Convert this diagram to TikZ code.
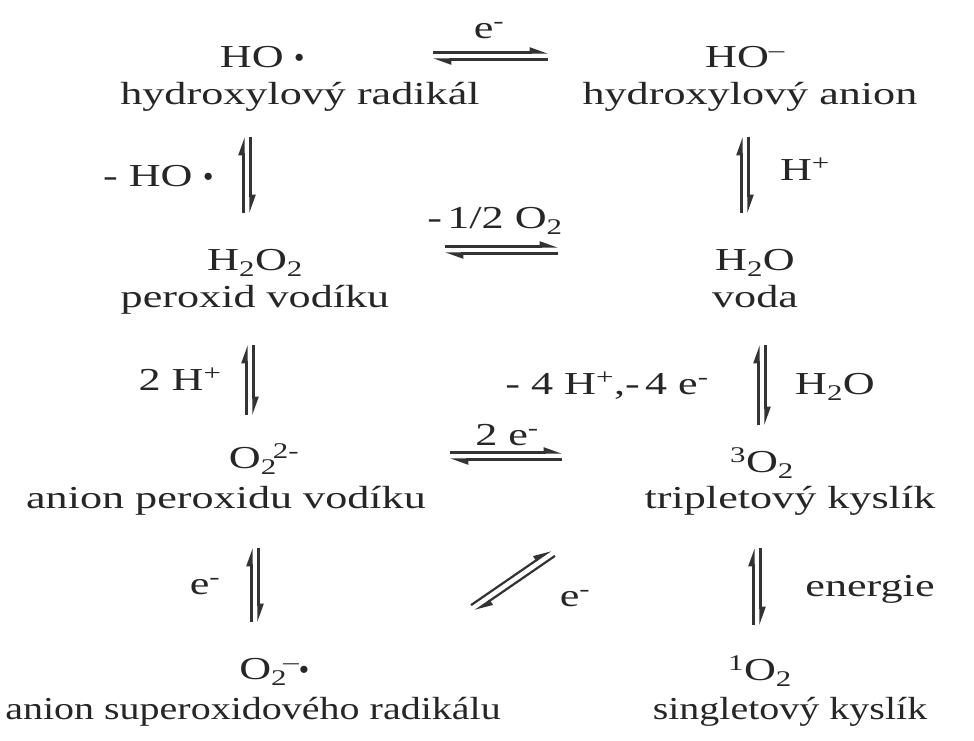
\documentclass[tikz,border=0pt]{standalone}
\usepackage{fontspec}
\setmainfont{Liberation Serif}[FakeStretch=1.38]
\usetikzlibrary{arrows.meta, calc}

\newcommand{\rad}{\raisebox{0.3ex}{\scalebox{0.75}{$\bullet$}}}
\newcommand{\ion}[3]{#1\textsubscript{#2}\kern-0.12em\textsuperscript{#3}}
% pair of harpoons between two named coordinates
\newcommand{\eqarrows}[2]{%
  \draw[harpoon] ($(#1)!3.5pt!90:(#2)$) -- ($(#2)!3.5pt!-90:(#1)$);
  \draw[harpoon] ($(#2)!3.5pt!90:(#1)$) -- ($(#1)!3.5pt!-90:(#2)$);}

\begin{document}
\begin{tikzpicture}[
    x=1pt, y=-1pt,
    font=\fontsize{32}{38}\selectfont,
    species/.style={anchor=base, inner sep=0pt, text=black!85},
    narrow/.style={species, font=\fontsize{32}{38}\selectfont\addfontfeature{FakeStretch=1.25}},
    lbl/.style={anchor=base, inner sep=0pt, text=black!85},
    harpoon/.style={line width=2.2pt, color=black!80,
        -{Triangle[left, length=15pt, width=10pt]}}
]
\useasboundingbox (0,0) rectangle (974,740);

% Top row
\node[species] (ho)   at (262,67)  {HO\ \rad};
\node[species] (hon)  at (300,104) {hydroxylový radikál};
\node[species] (hom)  at (745,67)  {HO\textsuperscript{--}};
\node[species] (homn) at (750,104) {hydroxylový anion};

% Second row
\node[species] (hoo)  at (255,270) {H\textsubscript{2}O\textsubscript{2}};
\node[species] (hoon) at (255,307) {peroxid vodíku};
\node[species] (wat)  at (755,270) {H\textsubscript{2}O};
\node[species] (watn) at (755,307) {voda};

% Third row
\node[species] (per)  at (264,468) {\ion{O}{2}{2-}};
\node[species] (pern) at (226,508) {anion peroxidu vodíku};
\node[species] (trip) at (762,472) {\textsuperscript{3}O\textsubscript{2}};
\node[species] (tripn) at (790,508) {tripletový kyslík};

% Bottom row
\node[species] (sup)  at (274,679) {\ion{O}{2}{--}\rad};
\node[narrow]  (supn) at (253,719) {anion superoxidového radikálu};
\node[species] (sing) at (760,680) {\textsuperscript{1}O\textsubscript{2}};
\node[narrow]  (singn) at (790,719) {singletový kyslík};

% Arrow ends
\coordinate (t1) at (433,56);  \coordinate (t2) at (548,56);
\coordinate (l1) at (247,137); \coordinate (l2) at (247,213);
\coordinate (r1) at (745,137); \coordinate (r2) at (745,213);
\coordinate (m1) at (445,250); \coordinate (m2) at (558,250);
\coordinate (l3) at (250,345); \coordinate (l4) at (250,415);
\coordinate (r3) at (762,345); \coordinate (r4) at (762,425);
\coordinate (b1) at (450,456); \coordinate (b2) at (562,456);
\coordinate (l5) at (255,548); \coordinate (l6) at (255,622);
\coordinate (d1) at (473,608); \coordinate (d2) at (553,553);
\coordinate (r5) at (757,548); \coordinate (r6) at (757,625);

% Equilibria
\eqarrows{t1}{t2}
\eqarrows{l1}{l2}
\eqarrows{r1}{r2}
\eqarrows{m1}{m2}
\eqarrows{l3}{l4}
\eqarrows{r3}{r4}
\eqarrows{b1}{b2}
\eqarrows{l5}{l6}
\eqarrows{d1}{d2}
\eqarrows{r5}{r6}

% Labels
\node[lbl] (e1)  at (489,38)  {e\textsuperscript{-}};
\node[lbl] (mho) at (158,186) {-\ HO\ \rad};
\node[lbl] (hp1) at (805,180) {H\textsuperscript{+}};
\node[lbl] (mo2) at (495,228) {-\,1/2\ O\textsubscript{2}};
\node[lbl] (hp2) at (180,390) {2 H\textsuperscript{+}};
\node[lbl] (m4)  at (607,394) {-\ 4 H\textsuperscript{+},-\,4 e\textsuperscript{-}};
\node[lbl] (wl)  at (835,394) {H\textsubscript{2}O};
\node[lbl] (e2)  at (507,445) {2 e\textsuperscript{-}};
\node[lbl] (e3)  at (205,594) {e\textsuperscript{-}};
\node[lbl] (e4)  at (575,606) {e\textsuperscript{-}};
\node[lbl] (en)  at (870,596) {energie};

\end{tikzpicture}
\end{document}
